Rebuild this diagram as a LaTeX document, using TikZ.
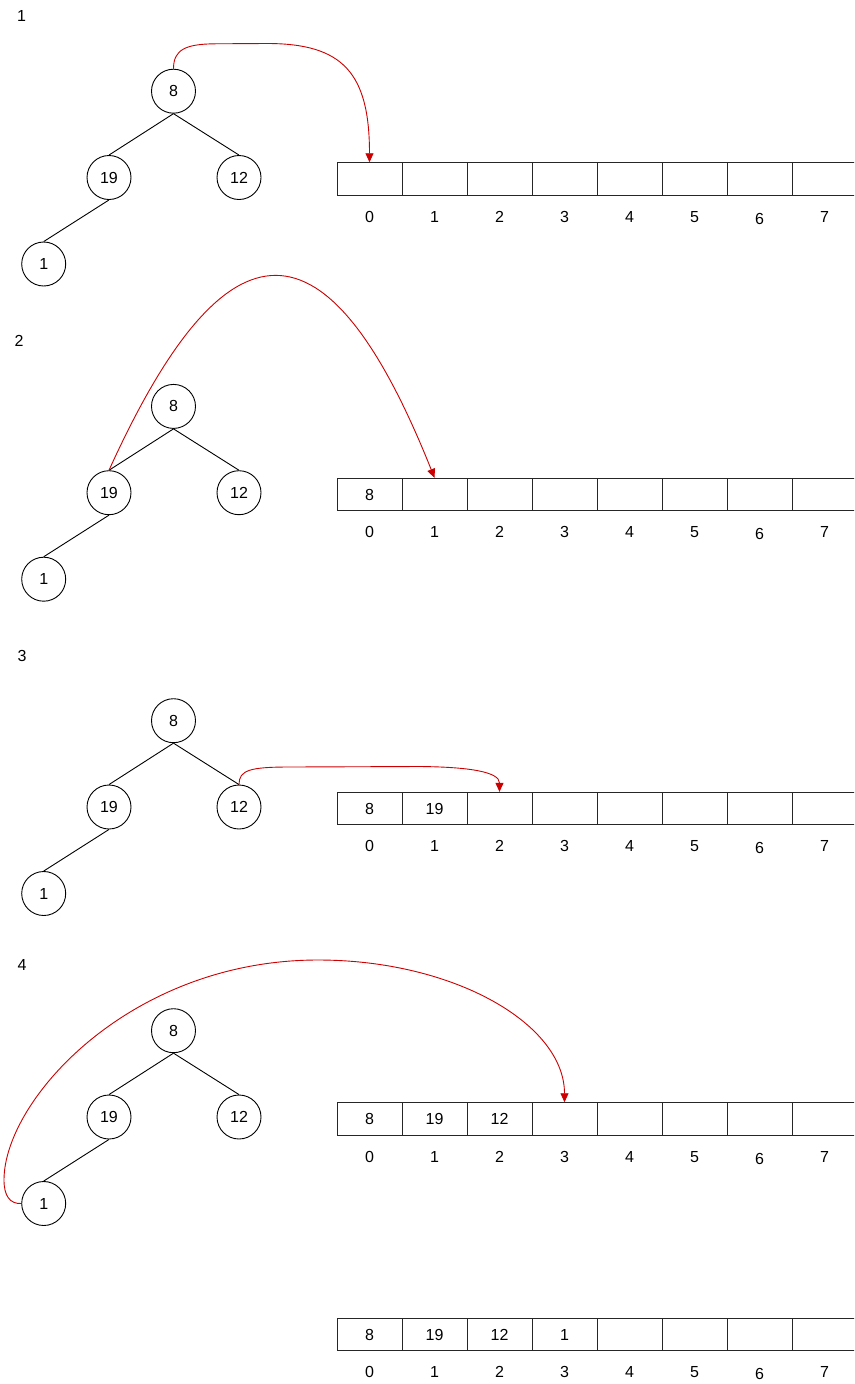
\documentclass[tikz,border=0pt]{standalone}
\usepackage{fontspec}
\setmainfont{Liberation Sans}
\usetikzlibrary{arrows.meta}
\definecolor{arrowred}{HTML}{CC0000}
\tikzset{
  txt/.style={font=\fontsize{16}{18}\selectfont},
  vtx/.style={circle, draw=black, line width=0.9pt, minimum size=44pt, inner sep=0pt, txt},
  cell/.style={rectangle, draw=black!85, line width=0.9pt, minimum width=65pt, minimum height=32.5pt, inner sep=0pt, txt},
  idx/.style={inner sep=0pt, txt},
  steplabel/.style={inner sep=0pt, txt},
  edge/.style={draw=black, line width=0.9pt},
  move/.style={draw=arrowred, line width=0.9pt, -{Triangle[length=9pt,width=8pt]}}
}
\newcommand{\heaptree}[2]{%
  \node[vtx] (#1r) at (173.5,#2-86.3) {8};
  \node[vtx] (#1a) at (109,#2) {19};
  \node[vtx] (#1b) at (239,#2) {12};
  \node[vtx] (#1c) at (43.7,#2+86.5) {1};
  \draw[edge] (#1r.south) -- (#1a.north);
  \draw[edge] (#1r.south) -- (#1b.north);
  \draw[edge] (#1a.south) -- (#1c.north);
}
\newcommand{\heaparray}[6]{% prefix, top y, values of cells 0..3
  \node[cell] (#1-0) at (369.5,#2+16.25) {#3};
  \node[cell] (#1-1) at (434.5,#2+16.25) {#4};
  \node[cell] (#1-2) at (499.5,#2+16.25) {#5};
  \node[cell] (#1-3) at (564.5,#2+16.25) {#6};
  \node[cell] (#1-4) at (629.5,#2+16.25) {};
  \node[cell] (#1-5) at (694.5,#2+16.25) {};
  \node[cell] (#1-6) at (759.5,#2+16.25) {};
  \node[cell] (#1-7) at (824.5,#2+16.25) {};
  \node[idx] (#1l0) at (369.5,#2+54) {0};
  \node[idx] (#1l1) at (434.5,#2+54) {1};
  \node[idx] (#1l2) at (499.5,#2+54) {2};
  \node[idx] (#1l3) at (564.5,#2+54) {3};
  \node[idx] (#1l4) at (629.5,#2+54) {4};
  \node[idx] (#1l5) at (694.5,#2+54) {5};
  \node[idx] (#1l6) at (759.5,#2+56) {6};
  \node[idx] (#1l7) at (824.5,#2+54) {7};
}
\begin{document}
\begin{tikzpicture}[x=1pt,y=-1pt]
\useasboundingbox (0,0) rectangle (854,1384);
\clip (0,0) rectangle (854,1384);
\fill[white] (0,0) rectangle (854,1384);

% step labels
\node[steplabel] (s1) at (21.5,16) {1};
\node[steplabel] (s2) at (19,340.5) {2};
\node[steplabel] (s3) at (22,656) {3};
\node[steplabel] (s4) at (22,965) {4};

% panel 1
\heaptree{p1}{177.5}
\heaparray{c1}{162.7}{}{}{}{}
\draw[move] (p1r.north) .. controls (173.5,50) and (185,44) .. (215,43.8)
  -- (267,43.5) .. controls (343,43.5) and (369.5,73) .. (c1-0.north);

% panel 2
\heaptree{p2}{492.7}
\heaparray{c2}{478.3}{8}{}{}{}
\draw[move] (p2a.north) .. controls (227,210) and (328,211) .. (c2-1.north);

% panel 3
\heaptree{p3}{807}
\heaparray{c3}{792.3}{8}{19}{}{}
\draw[move] (p3b.north) .. controls (239,770) and (250,767) .. (290,767)
  -- (420,766.5) .. controls (470,767) and (499.5,772) .. (c3-2.north);

% panel 4
\heaptree{p4}{1117}
\heaparray{c4}{1102.7}{8}{19}{12}{}
\draw[move] (p4c.west) .. controls (10,1204) and (4,1196) .. (4,1180)
  .. controls (4,1100) and (130,960) .. (318,960)
  .. controls (454,960) and (564.5,1024) .. (c4-3.north);

% final array
\heaparray{c5}{1318.3}{8}{19}{12}{1}
\end{tikzpicture}
\end{document}
